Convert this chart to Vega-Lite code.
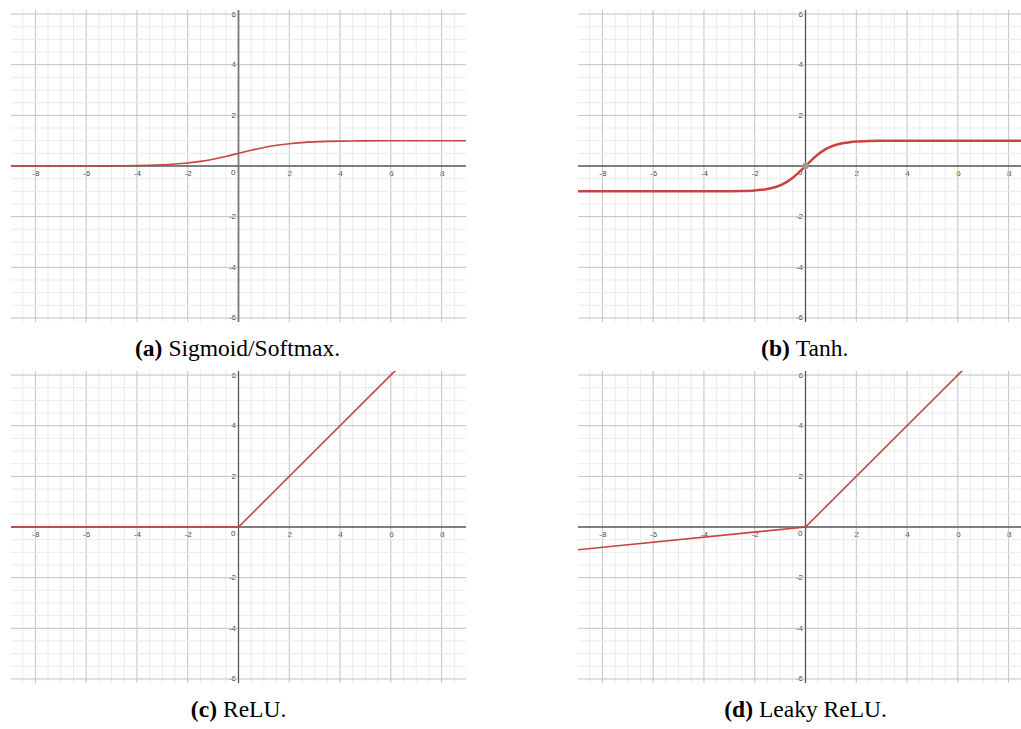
{
  "$schema": "https://vega.github.io/schema/vega-lite/v6.json",
  "background": "white",
  "padding": {"left": 10, "top": 9, "right": 0, "bottom": 0},
  "config": {"view": {"stroke": null}},
  "datasets": {
    "xgrid": [
      {"v": -8.5, "kind": "minor"}, {"v": -8, "kind": "major"}, {"v": -7.5, "kind": "minor"}, {"v": -7, "kind": "minor"},
      {"v": -6.5, "kind": "minor"}, {"v": -6, "kind": "major"}, {"v": -5.5, "kind": "minor"}, {"v": -5, "kind": "minor"},
      {"v": -4.5, "kind": "minor"}, {"v": -4, "kind": "major"}, {"v": -3.5, "kind": "minor"}, {"v": -3, "kind": "minor"},
      {"v": -2.5, "kind": "minor"}, {"v": -2, "kind": "major"}, {"v": -1.5, "kind": "minor"}, {"v": -1, "kind": "minor"},
      {"v": -0.5, "kind": "minor"}, {"v": 0.5, "kind": "minor"}, {"v": 1, "kind": "minor"}, {"v": 1.5, "kind": "minor"},
      {"v": 2, "kind": "major"}, {"v": 2.5, "kind": "minor"}, {"v": 3, "kind": "minor"}, {"v": 3.5, "kind": "minor"},
      {"v": 4, "kind": "major"}, {"v": 4.5, "kind": "minor"}, {"v": 5, "kind": "minor"}, {"v": 5.5, "kind": "minor"},
      {"v": 6, "kind": "major"}, {"v": 6.5, "kind": "minor"}, {"v": 7, "kind": "minor"}, {"v": 7.5, "kind": "minor"},
      {"v": 8, "kind": "major"}, {"v": 8.5, "kind": "minor"}
    ],
    "ygrid": [
      {"v": -6, "kind": "major"}, {"v": -5.5, "kind": "minor"}, {"v": -5, "kind": "minor"}, {"v": -4.5, "kind": "minor"},
      {"v": -4, "kind": "major"}, {"v": -3.5, "kind": "minor"}, {"v": -3, "kind": "minor"}, {"v": -2.5, "kind": "minor"},
      {"v": -2, "kind": "major"}, {"v": -1.5, "kind": "minor"}, {"v": -1, "kind": "minor"}, {"v": -0.5, "kind": "minor"},
      {"v": 0.5, "kind": "minor"}, {"v": 1, "kind": "minor"}, {"v": 1.5, "kind": "minor"}, {"v": 2, "kind": "major"},
      {"v": 2.5, "kind": "minor"}, {"v": 3, "kind": "minor"}, {"v": 3.5, "kind": "minor"}, {"v": 4, "kind": "major"},
      {"v": 4.5, "kind": "minor"}, {"v": 5, "kind": "minor"}, {"v": 5.5, "kind": "minor"}, {"v": 6, "kind": "major"}
    ],
    "origin": [{"label": "0"}],
    "sigmoid": [
      {"x": -8.96, "y": 0.0001}, {"x": -8, "y": 0.0003}, {"x": -7, "y": 0.0009}, {"x": -6, "y": 0.0025},
      {"x": -5, "y": 0.0067}, {"x": -4.5, "y": 0.011}, {"x": -4, "y": 0.018}, {"x": -3.5, "y": 0.029},
      {"x": -3, "y": 0.047}, {"x": -2.5, "y": 0.076}, {"x": -2, "y": 0.119}, {"x": -1.5, "y": 0.182},
      {"x": -1, "y": 0.269}, {"x": -0.5, "y": 0.378}, {"x": 0, "y": 0.5}, {"x": 0.5, "y": 0.622},
      {"x": 1, "y": 0.731}, {"x": 1.5, "y": 0.818}, {"x": 2, "y": 0.881}, {"x": 2.5, "y": 0.924},
      {"x": 3, "y": 0.953}, {"x": 3.5, "y": 0.971}, {"x": 4, "y": 0.982}, {"x": 4.5, "y": 0.989},
      {"x": 5, "y": 0.993}, {"x": 6, "y": 0.9975}, {"x": 7, "y": 0.9991}, {"x": 8, "y": 0.9997}, {"x": 8.96, "y": 0.9999}
    ],
    "tanh": [
      {"x": -8.96, "y": -1}, {"x": -5, "y": -0.9999}, {"x": -4, "y": -0.9993}, {"x": -3.5, "y": -0.998}, {"x": -3, "y": -0.995},
      {"x": -2.5, "y": -0.987}, {"x": -2, "y": -0.964}, {"x": -1.75, "y": -0.941}, {"x": -1.5, "y": -0.905},
      {"x": -1.25, "y": -0.848}, {"x": -1, "y": -0.762}, {"x": -0.75, "y": -0.635}, {"x": -0.5, "y": -0.462},
      {"x": -0.25, "y": -0.245}, {"x": 0, "y": 0}, {"x": 0.25, "y": 0.245}, {"x": 0.5, "y": 0.462},
      {"x": 0.75, "y": 0.635}, {"x": 1, "y": 0.762}, {"x": 1.25, "y": 0.848}, {"x": 1.5, "y": 0.905},
      {"x": 1.75, "y": 0.941}, {"x": 2, "y": 0.964}, {"x": 2.5, "y": 0.987}, {"x": 3, "y": 0.995},
      {"x": 3.5, "y": 0.998}, {"x": 4, "y": 0.9993}, {"x": 5, "y": 0.9999}, {"x": 8.96, "y": 1}
    ],
    "relu": [{"x": -8.96, "y": 0}, {"x": 0, "y": 0}, {"x": 6.6, "y": 6.6}],
    "leaky": [{"x": -8.96, "y": -0.896}, {"x": 0, "y": 0}, {"x": 6.6, "y": 6.6}]
  },
  "spacing": 9,
  "vconcat": [
    {
      "spacing": 110,
      "hconcat": [
        {
          "width": 455, "height": 312,
          "layer": [
            {"data": {"name": "xgrid"}, "mark": {"type": "rule", "strokeWidth": 1},
             "encoding": {"x": {"field": "v", "type": "quantitative", "scale": {"domain": [-8.96, 8.96], "nice": false, "zero": false},
               "axis": {"orient": "bottom", "offset": -156, "title": null, "values": [-8, -6, -4, -2, 2, 4, 6, 8], "grid": false, "ticks": false, "domain": false,
                 "labelExpr": "'' + datum.value", "labelBaseline": "top", "labelPadding": 3, "labelFont": "Liberation Sans", "labelFontSize": 8, "labelColor": "#444444", "labelOverlap": false, "labelFlush": false, "labelBound": false}},
               "color": {"field": "kind", "type": "nominal", "scale": {"domain": ["minor", "major"], "range": ["#ebebeb", "#c2c2c2"]}, "legend": null}}},
            {"data": {"name": "ygrid"}, "mark": {"type": "rule", "strokeWidth": 1},
             "encoding": {"y": {"field": "v", "type": "quantitative", "scale": {"domain": [-6.16, 6.16], "nice": false, "zero": false},
               "axis": {"orient": "left", "offset": -227.5, "title": null, "values": [-6, -4, -2, 2, 4, 6], "grid": false, "ticks": false, "domain": false,
                 "labelExpr": "'' + datum.value", "labelAlign": "right", "labelBaseline": "middle", "labelPadding": 3, "labelFont": "Liberation Sans", "labelFontSize": 8, "labelColor": "#444444", "labelOverlap": false, "labelFlush": false, "labelBound": false}},
               "color": {"field": "kind", "type": "nominal", "scale": {"domain": ["minor", "major"], "range": ["#ebebeb", "#c2c2c2"]}, "legend": null}}},
            {"data": {"name": "origin"}, "mark": {"type": "rule", "color": "#555555", "strokeWidth": 1.3}, "encoding": {"y": {"datum": 0, "type": "quantitative"}}},
            {"data": {"name": "origin"}, "mark": {"type": "rule", "color": "#777777", "strokeWidth": 1.8}, "encoding": {"x": {"datum": 0, "type": "quantitative"}}},
            {"data": {"name": "origin"}, "mark": {"type": "text", "align": "right", "baseline": "top", "dx": -3, "dy": 3, "font": "Liberation Sans", "fontSize": 8, "color": "#444444"},
             "encoding": {"x": {"datum": 0, "type": "quantitative"}, "y": {"datum": 0, "type": "quantitative"}, "text": {"field": "label"}}},
            {"data": {"name": "sigmoid"}, "mark": {"type": "line", "color": "#c74440", "strokeWidth": 1.6, "clip": true, "interpolate": "monotone"},
             "encoding": {"x": {"field": "x", "type": "quantitative"}, "y": {"field": "y", "type": "quantitative"}}},
            {"data": {"values": [{"tag": "(a)", "name": "Sigmoid/Softmax."}]},
             "mark": {"type": "text", "align": "right", "baseline": "middle", "dx": -3, "font": "Liberation Serif", "fontSize": 23.5, "fontWeight": "bold", "color": "black"},
             "encoding": {"x": {"datum": -2.88, "type": "quantitative"}, "y": {"datum": -7.24, "type": "quantitative"}, "text": {"field": "tag"}}},
            {"data": {"values": [{"tag": "(a)", "name": "Sigmoid/Softmax."}]},
             "mark": {"type": "text", "align": "left", "baseline": "middle", "dx": 3, "font": "Liberation Serif", "fontSize": 23.5, "color": "black"},
             "encoding": {"x": {"datum": -2.88, "type": "quantitative"}, "y": {"datum": -7.24, "type": "quantitative"}, "text": {"field": "name"}}}
          ]
        },
        {
          "width": 455, "height": 312,
          "layer": [
            {"data": {"name": "xgrid"}, "mark": {"type": "rule", "strokeWidth": 1},
             "encoding": {"x": {"field": "v", "type": "quantitative", "scale": {"domain": [-8.96, 8.96], "nice": false, "zero": false},
               "axis": {"orient": "bottom", "offset": -156, "title": null, "values": [-8, -6, -4, -2, 2, 4, 6, 8], "grid": false, "ticks": false, "domain": false,
                 "labelExpr": "'' + datum.value", "labelBaseline": "top", "labelPadding": 3, "labelFont": "Liberation Sans", "labelFontSize": 8, "labelColor": "#444444", "labelOverlap": false, "labelFlush": false, "labelBound": false}},
               "color": {"field": "kind", "type": "nominal", "scale": {"domain": ["minor", "major"], "range": ["#ebebeb", "#c2c2c2"]}, "legend": null}}},
            {"data": {"name": "ygrid"}, "mark": {"type": "rule", "strokeWidth": 1},
             "encoding": {"y": {"field": "v", "type": "quantitative", "scale": {"domain": [-6.16, 6.16], "nice": false, "zero": false},
               "axis": {"orient": "left", "offset": -227.5, "title": null, "values": [-6, -4, -2, 2, 4, 6], "grid": false, "ticks": false, "domain": false,
                 "labelExpr": "'' + datum.value", "labelAlign": "right", "labelBaseline": "middle", "labelPadding": 3, "labelFont": "Liberation Sans", "labelFontSize": 8, "labelColor": "#444444", "labelOverlap": false, "labelFlush": false, "labelBound": false}},
               "color": {"field": "kind", "type": "nominal", "scale": {"domain": ["minor", "major"], "range": ["#ebebeb", "#c2c2c2"]}, "legend": null}}},
            {"data": {"name": "origin"}, "mark": {"type": "rule", "color": "#555555", "strokeWidth": 1.3}, "encoding": {"y": {"datum": 0, "type": "quantitative"}}},
            {"data": {"name": "origin"}, "mark": {"type": "rule", "color": "#555555", "strokeWidth": 1.3}, "encoding": {"x": {"datum": 0, "type": "quantitative"}}},
            {"data": {"name": "origin"}, "mark": {"type": "text", "align": "right", "baseline": "top", "dx": -3, "dy": 3, "font": "Liberation Sans", "fontSize": 8, "color": "#444444"},
             "encoding": {"x": {"datum": 0, "type": "quantitative"}, "y": {"datum": 0, "type": "quantitative"}, "text": {"field": "label"}}},
            {"data": {"name": "tanh"}, "mark": {"type": "line", "color": "#c74440", "strokeWidth": 2.5, "clip": true, "interpolate": "monotone"},
             "encoding": {"x": {"field": "x", "type": "quantitative"}, "y": {"field": "y", "type": "quantitative"}}},
            {"data": {"values": [{"x": 0, "y": 0}]}, "mark": {"type": "point", "filled": true, "color": "#9a9a9a", "size": 40, "opacity": 1},
             "encoding": {"x": {"field": "x", "type": "quantitative"}, "y": {"field": "y", "type": "quantitative"}}},
            {"data": {"values": [{"tag": "(b)", "name": "Tanh."}]},
             "mark": {"type": "text", "align": "right", "baseline": "middle", "dx": -3, "font": "Liberation Serif", "fontSize": 23.5, "fontWeight": "bold", "color": "black"},
             "encoding": {"x": {"datum": -0.5, "type": "quantitative"}, "y": {"datum": -7.24, "type": "quantitative"}, "text": {"field": "tag"}}},
            {"data": {"values": [{"tag": "(b)", "name": "Tanh."}]},
             "mark": {"type": "text", "align": "left", "baseline": "middle", "dx": 3, "font": "Liberation Serif", "fontSize": 23.5, "color": "black"},
             "encoding": {"x": {"datum": -0.5, "type": "quantitative"}, "y": {"datum": -7.24, "type": "quantitative"}, "text": {"field": "name"}}}
          ]
        }
      ]
    },
    {
      "spacing": 110,
      "hconcat": [
        {
          "width": 455, "height": 312,
          "layer": [
            {"data": {"name": "xgrid"}, "mark": {"type": "rule", "strokeWidth": 1},
             "encoding": {"x": {"field": "v", "type": "quantitative", "scale": {"domain": [-8.96, 8.96], "nice": false, "zero": false},
               "axis": {"orient": "bottom", "offset": -156, "title": null, "values": [-8, -6, -4, -2, 2, 4, 6, 8], "grid": false, "ticks": false, "domain": false,
                 "labelExpr": "'' + datum.value", "labelBaseline": "top", "labelPadding": 3, "labelFont": "Liberation Sans", "labelFontSize": 8, "labelColor": "#444444", "labelOverlap": false, "labelFlush": false, "labelBound": false}},
               "color": {"field": "kind", "type": "nominal", "scale": {"domain": ["minor", "major"], "range": ["#ebebeb", "#c2c2c2"]}, "legend": null}}},
            {"data": {"name": "ygrid"}, "mark": {"type": "rule", "strokeWidth": 1},
             "encoding": {"y": {"field": "v", "type": "quantitative", "scale": {"domain": [-6.16, 6.16], "nice": false, "zero": false},
               "axis": {"orient": "left", "offset": -227.5, "title": null, "values": [-6, -4, -2, 2, 4, 6], "grid": false, "ticks": false, "domain": false,
                 "labelExpr": "'' + datum.value", "labelAlign": "right", "labelBaseline": "middle", "labelPadding": 3, "labelFont": "Liberation Sans", "labelFontSize": 8, "labelColor": "#444444", "labelOverlap": false, "labelFlush": false, "labelBound": false}},
               "color": {"field": "kind", "type": "nominal", "scale": {"domain": ["minor", "major"], "range": ["#ebebeb", "#c2c2c2"]}, "legend": null}}},
            {"data": {"name": "origin"}, "mark": {"type": "rule", "color": "#555555", "strokeWidth": 1.3}, "encoding": {"y": {"datum": 0, "type": "quantitative"}}},
            {"data": {"name": "origin"}, "mark": {"type": "rule", "color": "#555555", "strokeWidth": 1.3}, "encoding": {"x": {"datum": 0, "type": "quantitative"}}},
            {"data": {"name": "origin"}, "mark": {"type": "text", "align": "right", "baseline": "top", "dx": -3, "dy": 3, "font": "Liberation Sans", "fontSize": 8, "color": "#444444"},
             "encoding": {"x": {"datum": 0, "type": "quantitative"}, "y": {"datum": 0, "type": "quantitative"}, "text": {"field": "label"}}},
            {"data": {"name": "relu"}, "mark": {"type": "line", "color": "#c74440", "strokeWidth": 1.6, "clip": true},
             "encoding": {"x": {"field": "x", "type": "quantitative"}, "y": {"field": "y", "type": "quantitative"}}},
            {"data": {"values": [{"tag": "(c)", "name": "ReLU."}]},
             "mark": {"type": "text", "align": "right", "baseline": "middle", "dx": -3, "font": "Liberation Serif", "fontSize": 23.5, "fontWeight": "bold", "color": "black"},
             "encoding": {"x": {"datum": -0.73, "type": "quantitative"}, "y": {"datum": -7.24, "type": "quantitative"}, "text": {"field": "tag"}}},
            {"data": {"values": [{"tag": "(c)", "name": "ReLU."}]},
             "mark": {"type": "text", "align": "left", "baseline": "middle", "dx": 3, "font": "Liberation Serif", "fontSize": 23.5, "color": "black"},
             "encoding": {"x": {"datum": -0.73, "type": "quantitative"}, "y": {"datum": -7.24, "type": "quantitative"}, "text": {"field": "name"}}}
          ]
        },
        {
          "width": 455, "height": 312,
          "layer": [
            {"data": {"name": "xgrid"}, "mark": {"type": "rule", "strokeWidth": 1},
             "encoding": {"x": {"field": "v", "type": "quantitative", "scale": {"domain": [-8.96, 8.96], "nice": false, "zero": false},
               "axis": {"orient": "bottom", "offset": -156, "title": null, "values": [-8, -6, -4, -2, 2, 4, 6, 8], "grid": false, "ticks": false, "domain": false,
                 "labelExpr": "'' + datum.value", "labelBaseline": "top", "labelPadding": 3, "labelFont": "Liberation Sans", "labelFontSize": 8, "labelColor": "#444444", "labelOverlap": false, "labelFlush": false, "labelBound": false}},
               "color": {"field": "kind", "type": "nominal", "scale": {"domain": ["minor", "major"], "range": ["#ebebeb", "#c2c2c2"]}, "legend": null}}},
            {"data": {"name": "ygrid"}, "mark": {"type": "rule", "strokeWidth": 1},
             "encoding": {"y": {"field": "v", "type": "quantitative", "scale": {"domain": [-6.16, 6.16], "nice": false, "zero": false},
               "axis": {"orient": "left", "offset": -227.5, "title": null, "values": [-6, -4, -2, 2, 4, 6], "grid": false, "ticks": false, "domain": false,
                 "labelExpr": "'' + datum.value", "labelAlign": "right", "labelBaseline": "middle", "labelPadding": 3, "labelFont": "Liberation Sans", "labelFontSize": 8, "labelColor": "#444444", "labelOverlap": false, "labelFlush": false, "labelBound": false}},
               "color": {"field": "kind", "type": "nominal", "scale": {"domain": ["minor", "major"], "range": ["#ebebeb", "#c2c2c2"]}, "legend": null}}},
            {"data": {"name": "origin"}, "mark": {"type": "rule", "color": "#555555", "strokeWidth": 1.3}, "encoding": {"y": {"datum": 0, "type": "quantitative"}}},
            {"data": {"name": "origin"}, "mark": {"type": "rule", "color": "#555555", "strokeWidth": 1.3}, "encoding": {"x": {"datum": 0, "type": "quantitative"}}},
            {"data": {"name": "origin"}, "mark": {"type": "text", "align": "right", "baseline": "top", "dx": -3, "dy": 3, "font": "Liberation Sans", "fontSize": 8, "color": "#444444"},
             "encoding": {"x": {"datum": 0, "type": "quantitative"}, "y": {"datum": 0, "type": "quantitative"}, "text": {"field": "label"}}},
            {"data": {"name": "leaky"}, "mark": {"type": "line", "color": "#c74440", "strokeWidth": 1.6, "clip": true},
             "encoding": {"x": {"field": "x", "type": "quantitative"}, "y": {"field": "y", "type": "quantitative"}}},
            {"data": {"values": [{"tag": "(d)", "name": "Leaky ReLU."}]},
             "mark": {"type": "text", "align": "right", "baseline": "middle", "dx": -3, "font": "Liberation Serif", "fontSize": 23.5, "fontWeight": "bold", "color": "black"},
             "encoding": {"x": {"datum": -1.95, "type": "quantitative"}, "y": {"datum": -7.24, "type": "quantitative"}, "text": {"field": "tag"}}},
            {"data": {"values": [{"tag": "(d)", "name": "Leaky ReLU."}]},
             "mark": {"type": "text", "align": "left", "baseline": "middle", "dx": 3, "font": "Liberation Serif", "fontSize": 23.5, "color": "black"},
             "encoding": {"x": {"datum": -1.95, "type": "quantitative"}, "y": {"datum": -7.24, "type": "quantitative"}, "text": {"field": "name"}}}
          ]
        }
      ]
    }
  ]
}
